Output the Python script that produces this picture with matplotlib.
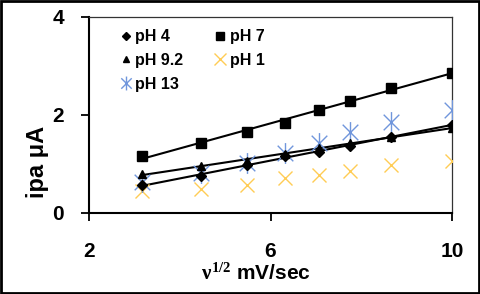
import numpy as np
import matplotlib
matplotlib.use("Agg")
import matplotlib.pyplot as plt
from matplotlib.path import Path
from matplotlib.lines import Line2D
from matplotlib.patches import Rectangle

plt.rcParams['font.family'] = ['Liberation Sans', 'DejaVu Sans']
plt.rcParams['font.weight'] = 'bold'
plt.rcParams['mathtext.fontset'] = 'custom'
plt.rcParams['mathtext.rm'] = 'Liberation Serif'
plt.rcParams['mathtext.it'] = 'Liberation Serif'
plt.rcParams['mathtext.bf'] = 'Liberation Serif'

# square root of scan rate
sqrt_v = [3.16, 4.47, 5.48, 6.32, 7.07, 7.75, 8.66, 10.0]

# peak anodic current (uA) per pH
ph4 = [0.57, 0.75, 0.98, 1.17, 1.25, 1.37, 1.56, 1.80]
ph7 = [1.16, 1.43, 1.66, 1.84, 2.10, 2.29, 2.55, 2.86]
ph92 = [0.80, 0.96, 1.06, 1.20, 1.32, 1.42, 1.56, 1.74]
ph1 = [0.44, 0.49, 0.57, 0.71, 0.77, 0.86, 0.98, 1.06]
ph13 = [0.63, 0.82, 1.02, 1.22, 1.43, 1.65, 1.86, 2.10]

x_ticks = [2, 6, 10]
y_ticks = [0, 2, 4]

yellow = '#FFCC55'
blue = '#7096DC'

# excel style asterisk: vertical bar plus an x
star = Path([(0, -1), (0, 1), (-0.75, -0.75), (0.75, 0.75), (-0.75, 0.75), (0.75, -0.75)],
            [Path.MOVETO, Path.LINETO, Path.MOVETO, Path.LINETO, Path.MOVETO, Path.LINETO])

fig = plt.figure(figsize=(4.8, 2.94), dpi=100)
ax = fig.add_axes([89/480, 1-213/294, (452-89)/480, (213-17)/294])

x = np.array(sqrt_v)
# linear trendlines for the three filled series
for ys in (ph4, ph7, ph92):
    k, b = np.polyfit(x, ys, 1)
    ax.plot([x[0], x[-1]], [k*x[0]+b, k*x[-1]+b], color='black', lw=1.5, zorder=2)

ax.plot(x, ph1, ls='none', marker='x', ms=10, mew=1.0, color=yellow, zorder=3)
ax.plot(x, ph13, ls='none', marker=star, ms=15, mew=1.0, color=blue, zorder=3)
ax.plot(x, ph92, ls='none', marker='^', ms=6, color='black', zorder=4)
ax.plot(x, ph4, ls='none', marker='D', ms=5, color='black', zorder=4)
ax.plot(x, ph7, ls='none', marker='s', ms=7, color='black', zorder=4)

ax.set_xlim(2, 10)
ax.set_ylim(0, 4)
ax.set_xticks(x_ticks)
ax.set_xticklabels([str(t) for t in x_ticks], fontsize=15, fontweight='bold')
ax.set_yticks(y_ticks)
ax.set_yticklabels([str(t) for t in y_ticks], fontsize=15, fontweight='bold')
ax.tick_params(axis='both', direction='out', length=6, width=1.3)
ax.tick_params(axis='x', pad=15)
ax.tick_params(axis='y', pad=12)
for s in ('left', 'bottom'):
    ax.spines[s].set_linewidth(1.5)
for s in ('top', 'right'):
    ax.spines[s].set_linewidth(0.9)
    ax.spines[s].set_color('#333333')

ax.set_xlabel(r'$\nu^{1/2}$ mV/sec', fontsize=15, fontweight='bold')
ax.xaxis.set_label_coords(0.46, -0.255)
ax.set_ylabel('ipa μA', fontsize=17, fontweight='bold')
ax.yaxis.set_label_coords(-0.11, 0.26)

handles = [
    Line2D([], [], ls='none', marker='D', ms=4, color='black'),
    Line2D([], [], ls='none', marker='^', ms=5, color='black'),
    Line2D([], [], ls='none', marker=star, ms=10, mew=1.0, color=blue),
    Line2D([], [], ls='none', marker='s', ms=6, color='black'),
    Line2D([], [], ls='none', marker='x', ms=8, mew=1.0, color=yellow),
]
labels = ['pH 4', 'pH 9.2', 'pH 13', 'pH 7', 'pH 1']
ax.legend(handles, labels, ncol=2, loc='upper left', bbox_to_anchor=(0.07, 0.97),
          frameon=False, prop={'size': 11.5, 'weight': 'bold'}, handlelength=0.6,
          handletextpad=0.3, columnspacing=2.0, labelspacing=0.55, borderaxespad=0)

fig.patches.append(Rectangle((0.003, 0.005), 0.994, 0.99, transform=fig.transFigure,
                             fill=False, lw=2, edgecolor='black'))

fig.savefig('out.png', dpi=100)
